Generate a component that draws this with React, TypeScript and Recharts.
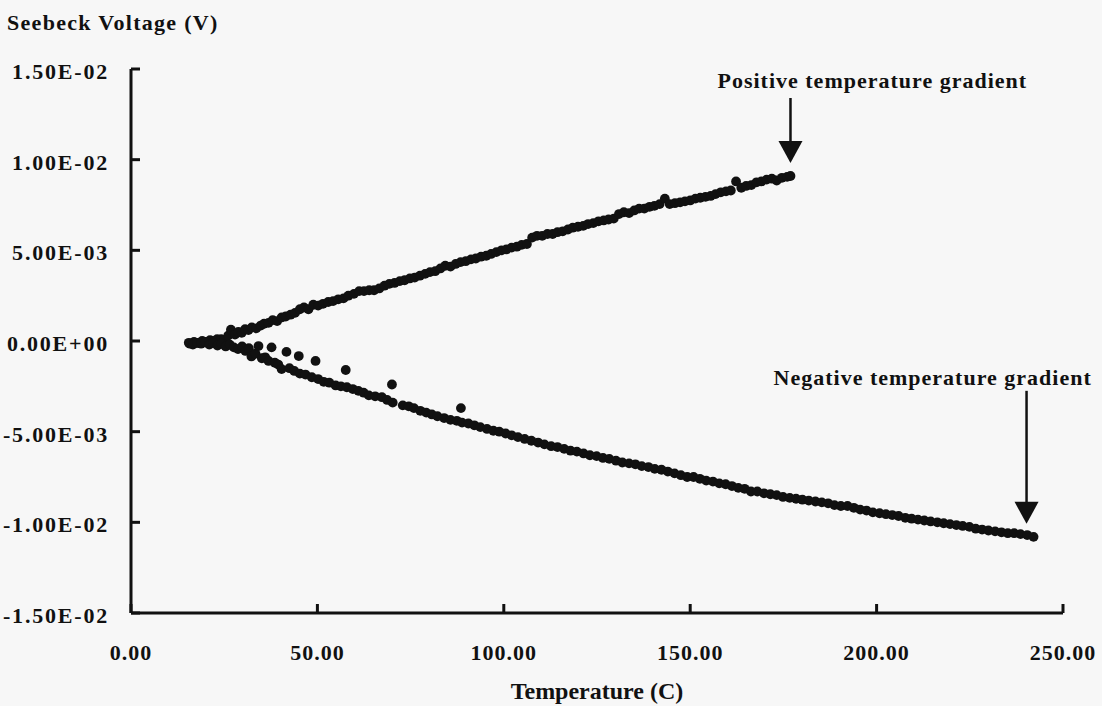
import React from 'react';
import { ScatterChart, Scatter, XAxis, YAxis, ReferenceDot } from 'recharts';

// temperature (C) and Seebeck voltage (mV)
const posTemp = [15.8, 16.9, 18.0, 19.1, 20.0, 21.2, 22.3, 23.1, 24.2, 25.0, 26.1, 26.8, 27.9, 28.8, 29.7, 30.6, 31.5, 32.4, 33.6, 34.8, 35.7, 36.9, 38.0, 39.2, 40.4, 41.5, 42.8, 44.0, 45.3, 46.4, 47.6, 48.9, 50.2, 51.5, 52.9, 54.2, 55.6, 57.0, 58.3, 59.8, 61.2, 62.5, 63.9, 65.2, 66.6, 68.0, 69.3, 70.7, 72.1, 73.4, 74.8, 76.1, 77.5, 78.9, 80.2, 81.6, 83.0, 84.3, 85.7, 87.1, 88.4, 89.8, 91.2, 92.5, 93.9, 95.3, 96.6, 98.0, 99.4, 100.7, 102.1, 103.5, 104.8, 106.2, 107.6, 108.9, 110.3, 111.7, 113.1, 114.4, 115.8, 117.2, 118.5, 119.9, 121.3, 122.6, 124.0, 125.4, 126.8, 128.1, 129.5, 130.9, 132.2, 133.6, 135.0, 136.3, 137.7, 139.1, 140.4, 141.8, 143.2, 144.5, 145.9, 147.3, 148.6, 150.0, 151.4, 152.7, 154.1, 155.5, 156.8, 158.2, 159.6, 160.9, 162.3, 163.7, 165.0, 166.4, 167.8, 169.1, 170.5, 171.9, 173.2, 174.6, 176.0, 176.9];
const posMv = [-0.15, -0.05, -0.1, 0.0, -0.05, 0.05, 0.0, 0.1, 0.1, 0.05, 0.3, 0.62, 0.35, 0.5, 0.45, 0.65, 0.6, 0.75, 0.7, 0.85, 0.95, 1.0, 1.15, 1.1, 1.3, 1.35, 1.45, 1.55, 1.75, 1.85, 1.75, 2.0, 1.95, 2.05, 2.15, 2.2, 2.3, 2.35, 2.5, 2.6, 2.75, 2.75, 2.8, 2.8, 2.9, 3.05, 3.15, 3.2, 3.3, 3.35, 3.45, 3.5, 3.6, 3.7, 3.8, 3.85, 4.0, 4.15, 4.1, 4.25, 4.35, 4.4, 4.5, 4.55, 4.65, 4.7, 4.8, 4.9, 5.0, 5.05, 5.15, 5.2, 5.3, 5.35, 5.7, 5.8, 5.8, 5.9, 5.9, 6.0, 6.05, 6.15, 6.25, 6.3, 6.35, 6.45, 6.5, 6.6, 6.65, 6.7, 6.75, 7.0, 7.1, 7.05, 7.2, 7.3, 7.3, 7.4, 7.45, 7.55, 7.85, 7.55, 7.6, 7.65, 7.7, 7.75, 7.85, 7.9, 7.95, 8.0, 8.1, 8.2, 8.25, 8.3, 8.8, 8.45, 8.55, 8.6, 8.75, 8.8, 8.9, 8.95, 8.85, 9.0, 9.05, 9.1];

const negTemp = [15.5, 16.6, 17.7, 18.8, 19.9, 21.0, 22.1, 23.2, 24.3, 25.4, 26.5, 27.6, 28.7, 29.8, 30.7, 31.6, 32.3, 33.4, 34.2, 35.1, 36.0, 36.9, 37.7, 38.6, 39.5, 40.4, 41.7, 42.5, 43.8, 45.0, 45.3, 46.8, 48.5, 49.5, 50.2, 51.7, 53.2, 54.9, 56.3, 57.6, 57.9, 59.5, 61.0, 62.4, 63.8, 65.5, 67.3, 68.7, 70.0, 70.2, 72.9, 74.5, 75.9, 77.6, 79.2, 80.7, 82.2, 84.0, 85.7, 87.4, 88.5, 88.8, 90.5, 92.1, 93.7, 95.5, 97.2, 98.8, 100.5, 102.1, 103.8, 105.6, 107.4, 109.2, 110.9, 112.7, 114.4, 116.2, 117.9, 119.6, 121.4, 123.1, 124.9, 126.6, 128.3, 130.1, 131.8, 133.6, 135.3, 137.0, 138.8, 140.5, 142.3, 144.0, 145.8, 147.5, 149.2, 150.9, 152.6, 154.3, 156.1, 157.8, 159.5, 161.2, 162.9, 164.6, 166.3, 168.0, 169.8, 171.5, 173.2, 174.9, 176.7, 178.4, 180.1, 181.8, 183.6, 185.3, 187.0, 188.7, 190.4, 192.2, 193.9, 195.6, 197.3, 199.0, 200.8, 202.5, 204.2, 205.9, 207.7, 209.4, 211.1, 212.8, 214.5, 216.3, 218.0, 219.7, 221.4, 223.1, 224.9, 226.6, 228.3, 230.0, 231.8, 233.5, 235.2, 236.9, 238.6, 240.4, 242.1];
const negMv = [-0.1, -0.2, -0.1, -0.15, -0.05, -0.2, -0.1, -0.25, -0.15, -0.3, -0.2, -0.35, -0.45, -0.3, -0.55, -0.4, -0.85, -0.7, -0.28, -0.95, -0.9, -1.1, -0.35, -1.2, -1.3, -1.55, -0.6, -1.5, -1.65, -0.83, -1.8, -1.85, -2.0, -1.1, -2.1, -2.25, -2.3, -2.45, -2.5, -1.6, -2.55, -2.65, -2.75, -2.85, -3.0, -3.05, -3.1, -3.25, -2.4, -3.4, -3.55, -3.6, -3.7, -3.85, -3.95, -4.05, -4.15, -4.25, -4.35, -4.4, -3.7, -4.5, -4.55, -4.65, -4.75, -4.85, -4.95, -5.0, -5.1, -5.2, -5.3, -5.4, -5.5, -5.6, -5.7, -5.8, -5.85, -5.95, -6.05, -6.1, -6.2, -6.3, -6.35, -6.45, -6.5, -6.6, -6.7, -6.75, -6.8, -6.9, -6.95, -7.05, -7.1, -7.2, -7.3, -7.4, -7.5, -7.5, -7.6, -7.7, -7.75, -7.85, -7.9, -8.0, -8.1, -8.15, -8.3, -8.3, -8.4, -8.45, -8.5, -8.6, -8.65, -8.7, -8.75, -8.8, -8.85, -8.9, -8.95, -9.05, -9.1, -9.1, -9.2, -9.3, -9.35, -9.45, -9.5, -9.55, -9.6, -9.65, -9.75, -9.8, -9.85, -9.9, -9.95, -10.0, -10.05, -10.1, -10.15, -10.2, -10.25, -10.35, -10.4, -10.45, -10.5, -10.55, -10.6, -10.6, -10.65, -10.7, -10.8];

const xTicks = [0, 50, 100, 150, 200, 250];
const xTickLabels = ['0.00', '50.00', '100.00', '150.00', '200.00', '250.00'];
const yTicks = [0.015, 0.01, 0.005, 0, -0.005, -0.01, -0.015];
const yTickLabels = ['1.50E-02', '1.00E-02', '5.00E-03', '0.00E+00', '-5.00E-03', '-1.00E-02', '-1.50E-02'];

const posData = posTemp.map((t, i) => ({ t, v: posMv[i] / 1000 }));
const negData = negTemp.map((t, i) => ({ t, v: negMv[i] / 1000 }));

const FONT = '"Liberation Serif", "Times New Roman", serif';
const INK = '#111';
const PLOT_LEFT = 131;
const PLOT_BOTTOM = 613;

const Dot = (props: any) => <circle cx={props.cx} cy={props.cy} r={4.9} fill={INK} />;

const YTick = (props: any) => {
  const i = yTicks.indexOf(props.payload.value);
  return (
    <g>
      <line x1={PLOT_LEFT} x2={PLOT_LEFT + 9} y1={props.y} y2={props.y} stroke={INK} strokeWidth={3} />
      <text x={109} y={props.y + 10} textAnchor="end" fontFamily={FONT} fontWeight="bold" fontSize={22} letterSpacing={1.8} fill={INK}>
        {yTickLabels[i]}
      </text>
    </g>
  );
};

const XTick = (props: any) => {
  const i = xTicks.indexOf(props.payload.value);
  return (
    <g>
      <line x1={props.x} x2={props.x} y1={PLOT_BOTTOM} y2={PLOT_BOTTOM - 9} stroke={INK} strokeWidth={3} />
      <text x={props.x} y={660} textAnchor="middle" fontFamily={FONT} fontWeight="bold" fontSize={22} letterSpacing={1} fill={INK}>
        {xTickLabels[i]}
      </text>
    </g>
  );
};

const Pointer = ({ cx, cy, label, dx, textDx, lineTop, textDy }: any) => (
  <g>
    <text x={cx + textDx} y={cy + textDy} fontFamily={FONT} fontWeight="bold" fontSize={22} letterSpacing={1} fill={INK}>
      {label}
    </text>
    <line x1={cx + dx} x2={cx + dx} y1={cy + lineTop} y2={cy - 34} stroke={INK} strokeWidth={2.5} />
    <polygon points={`${cx + dx - 12},${cy - 35} ${cx + dx + 12},${cy - 35} ${cx + dx},${cy - 13}`} fill={INK} />
  </g>
);

export default function App() {
  const lastPos = posData[posData.length - 1];
  const lastNeg = negData[negData.length - 1];
  return (
    <div style={{ width: 1102, height: 706, background: '#f7f7f7', position: 'relative' }}>
      <style>{`body{margin:0;background:#f7f7f7}`}</style>
      <ScatterChart width={1102} height={706} margin={{ top: 69, right: 39, left: 0, bottom: 0 }}>
        <XAxis
          type="number"
          dataKey="t"
          domain={[0, 250]}
          ticks={xTicks}
          height={93}
          axisLine={{ stroke: INK, strokeWidth: 3 }}
          tickLine={false}
          tick={<XTick />}
          label={{ value: 'Temperature (C)', position: 'insideBottom', offset: 7, fontFamily: FONT, fontWeight: 'bold', fontSize: 24, fill: INK }}
        />
        <YAxis
          type="number"
          dataKey="v"
          domain={[-0.015, 0.015]}
          ticks={yTicks}
          width={131}
          axisLine={{ stroke: INK, strokeWidth: 3 }}
          tickLine={false}
          tick={<YTick />}
        />
        <Scatter data={posData} shape={Dot} isAnimationActive={false} />
        <Scatter data={negData} shape={Dot} isAnimationActive={false} />
        <ReferenceDot
          x={lastPos.t}
          y={lastPos.v}
          shape={(p: any) => (
            <Pointer cx={p.cx} cy={p.cy} dx={0} lineTop={-78} textDx={-73} textDy={-88} label="Positive temperature gradient" />
          )}
        />
        <ReferenceDot
          x={lastNeg.t}
          y={lastNeg.v}
          shape={(p: any) => (
            <Pointer cx={p.cx} cy={p.cy} dx={-7} lineTop={-146} textDx={-260} textDy={-152} label="Negative temperature gradient" />
          )}
        />
      </ScatterChart>
      <div
        style={{ position: 'absolute', left: 7, top: 12, fontFamily: FONT, fontWeight: 'bold', fontSize: 22, lineHeight: 1, letterSpacing: 1.3, color: INK }}
      >
        Seebeck Voltage (V)
      </div>
    </div>
  );
}
